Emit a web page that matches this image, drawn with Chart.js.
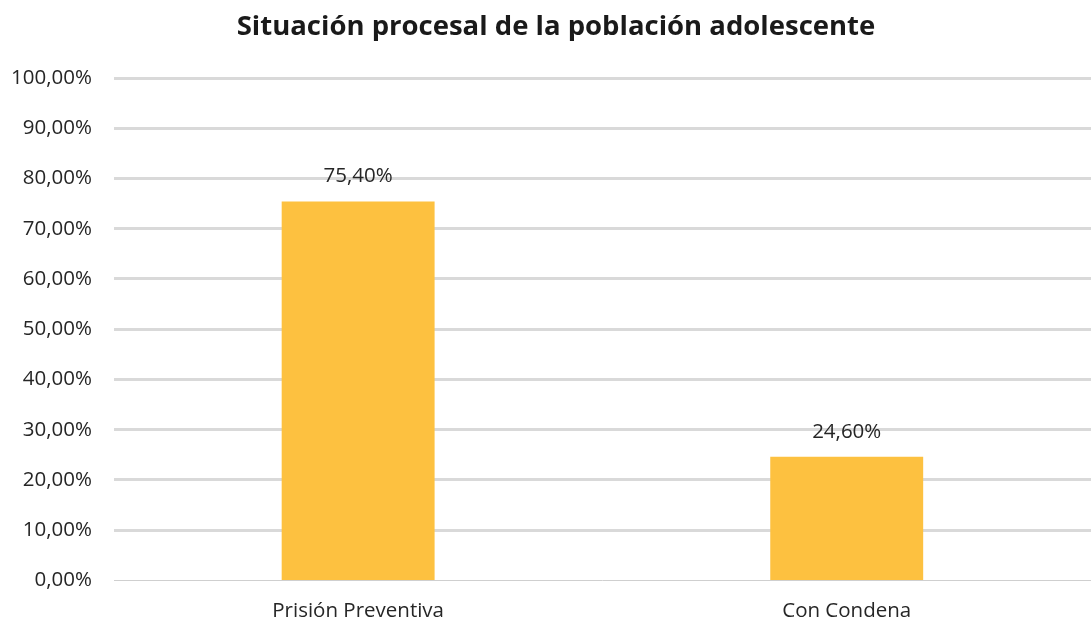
<!DOCTYPE html>
<html>
<head>
<meta charset="utf-8">
<script src="https://cdn.jsdelivr.net/npm/chart.js@4"></script>
<style>
  body { margin: 0; background: #fff; }
  #wrap { width: 1091px; height: 621px; }
</style>
</head>
<body>
<div id="wrap"><canvas id="chart" width="1091" height="621"></canvas></div>
<script>
const categories = ['Prisión Preventiva', 'Con Condena'];
const values = [0.754, 0.246];
const yTicks = [0, 0.1, 0.2, 0.3, 0.4, 0.5, 0.6, 0.7, 0.8, 0.9, 1];
const titleText = 'Situación procesal de la población adolescente';

const FONT = '"Open Sans", "Noto Sans", sans-serif';
const fmt = v => (v * 100).toFixed(2).replace('.', ',') + '%';

// value labels above each bar + title (the original title sits a bit right of centre)
const barLabels = {
    id: 'barLabels',
    afterDatasetsDraw(chart) {
        const ctx = chart.ctx;
        const meta = chart.getDatasetMeta(0);
        ctx.save();
        ctx.font = '20.5px ' + FONT;
        ctx.fillStyle = '#262626';
        ctx.textAlign = 'center';
        ctx.textBaseline = 'middle';
        meta.data.forEach((bar, i) => {
            ctx.fillText(fmt(values[i]), bar.x, bar.y - 25);
        });
        ctx.font = 'bold 27.5px ' + FONT;
        ctx.fillStyle = '#1a1a1a';
        ctx.fillText(titleText, 556, 27);
        ctx.restore();
    }
};

new Chart(document.getElementById('chart'), {
    type: 'bar',
    data: {
        labels: categories,
        datasets: [{
            data: values,
            backgroundColor: '#FDC140',
            categoryPercentage: 1,
            barPercentage: 0.313
        }]
    },
    options: {
        responsive: false,
        animation: false,
        layout: { padding: { left: -11, right: -12, top: 78, bottom: -12 } },
        plugins: {
            legend: { display: false },
            tooltip: { enabled: false },
            title: { display: false }
        },
        scales: {
            x: {
                grid: { display: false },
                border: { display: false },
                ticks: {
                    color: '#262626',
                    font: { family: FONT, size: 20.5 },
                    padding: 10
                }
            },
            y: {
                min: 0,
                max: 1,
                afterBuildTicks: axis => { axis.ticks = yTicks.map(v => ({ value: v })); },
                border: { display: false },
                grid: {
                    color: ctx => ctx.tick && ctx.tick.value === 0 ? '#cfcfcf' : '#d9d9d9',
                    lineWidth: ctx => ctx.tick && ctx.tick.value === 0 ? 1 : 3,
                    drawTicks: false
                },
                ticks: {
                    color: '#262626',
                    font: { family: FONT, size: 20.5 },
                    padding: 22,
                    callback: v => fmt(v)
                }
            }
        }
    },
    plugins: [barLabels]
});
</script>
</body>
</html>
